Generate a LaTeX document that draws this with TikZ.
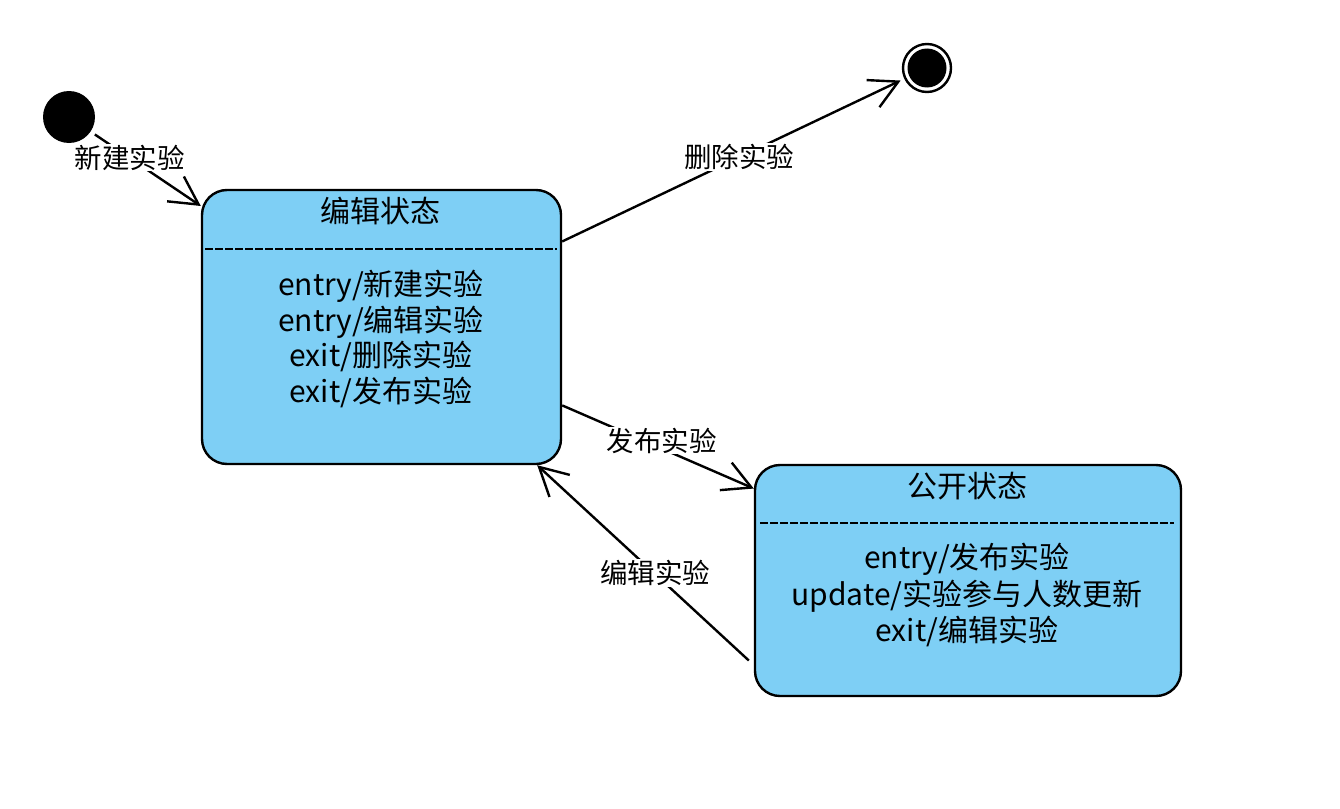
\documentclass[tikz,border=0pt]{standalone}
\usepackage{fontspec}
\setmainfont{Noto Sans CJK SC}
\usetikzlibrary{arrows.meta}
\definecolor{statefill}{RGB}{126,207,245}

\begin{document}
\begin{tikzpicture}[x=1pt,y=-1pt,
	state/.style={draw, line width=2.4pt, fill=statefill, rounded corners=25pt, inner sep=0pt},
	trans/.style={line width=2.4pt, -{Straight Barb[length=28pt,width=30pt]}},
	lbl/.style={fill=white, inner sep=1pt, font=\fontsize{27.5}{30}\selectfont},
	stitle/.style={inner sep=0pt, font=\fontsize{30}{36}\selectfont},
	sbody/.style={align=center, inner sep=0pt},
	sep/.style={line width=2pt, dash pattern=on 7.5pt off 2.5pt}]
	\useasboundingbox (0,0) rectangle (1340,808);

	% initial and final states
	\node[circle, fill=black, minimum size=52pt, inner sep=0pt] (start) at (69,117) {};
	\node[circle, draw, line width=2.4pt, minimum size=48pt, inner sep=0pt] (final) at (927,68) {};
	\node[circle, fill=black, minimum size=39pt, inner sep=0pt] (finaldot) at (927,68) {};

	% edit state
	\node[state, minimum width=359pt, minimum height=274pt] (edit) at (381.5,327) {};
	\node[stitle] (edittitle) at (380.5,211.5) {编辑状态};
	\draw[sep] (205,249) -- (557,249);
	\node[sbody, font=\fontsize{30}{35.6}\selectfont] (editbody) at (381,339)
		{entry/新建实验\\entry/编辑实验\\exit/删除实验\\exit/发布实验};

	% public state
	\node[state, minimum width=426pt, minimum height=231pt] (public) at (968,580.5) {};
	\node[stitle] (publictitle) at (967.5,486) {公开状态};
	\draw[sep] (760,523) -- (1174,523);
	\node[sbody, font=\fontsize{30}{36.5}\selectfont] (publicbody) at (967,595)
		{entry/发布实验\\update/实验参与人数更新\\exit/编辑实验};

	% transitions
	\draw[trans, shorten <=5pt] (start) -- (edit);
	\draw[trans, shorten >=4pt] (edit) -- (final);
	\draw[trans] (edit) -- (public);
	\draw[trans] ([shift={(-5,80)}]public.west) -- ([shift={(-25,0)}]edit.south east);

	% transition labels
	\node[lbl] (newlbl) at (129.5,157.5) {新建实验};
	\node[lbl] (dellbl) at (739,157) {删除实验};
	\node[lbl] (publbl) at (661.5,440.5) {发布实验};
	\node[lbl] (editlbl) at (655,573) {编辑实验};
\end{tikzpicture}
\end{document}
